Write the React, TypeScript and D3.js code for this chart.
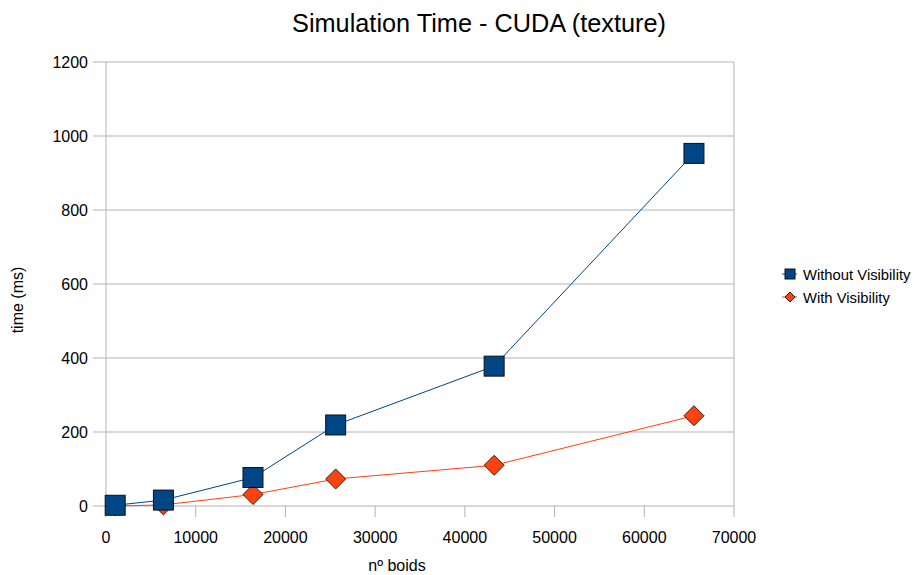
import React from "react";
import * as d3 from "d3";

const boids = [1024, 6400, 16384, 25600, 43264, 65536];
const withoutVisibility = [2, 16, 77, 219, 378, 953];
const withVisibility = [0, 3, 31, 73, 110, 244];
const xTicks = [0, 10000, 20000, 30000, 40000, 50000, 60000, 70000];
const yTicks = [0, 200, 400, 600, 800, 1000, 1200];
const seriesNames = ["Without Visibility", "With Visibility"];

const W = 914, H = 575;
const L = 106, R = 734, T = 62, B = 506;
const FONT = "'Liberation Sans', Arial, sans-serif";
const BLUE = "#004586";
const ORANGE = "#ff420e";
const GRID = "#b3b3b3";

export default function App() {
  const x = d3.scaleLinear().domain([0, 70000]).range([L, R]);
  const y = d3.scaleLinear().domain([0, 1200]).range([B, T]);
  const line = d3.line<number>().x((_, i) => x(boids[i])).y((d) => y(d));

  const sq = 10;
  const dm = 10;
  const diamond = (cx: number, cy: number, r: number) =>
    `M${cx},${cy - r}L${cx + r},${cy}L${cx},${cy + r}L${cx - r},${cy}Z`;

  return (
    <svg width={W} height={H} style={{ position: "absolute", left: 0, top: 0 }} fontFamily={FONT}>
      <rect width={W} height={H} fill="#fff" />
      <text x={479} y={32} textAnchor="middle" fontSize={25.3}>Simulation Time - CUDA (texture)</text>
      {yTicks.map((t) => (
        <g key={"y" + t}>
          <line x1={L} x2={R} y1={y(t)} y2={y(t)} stroke={GRID} strokeWidth={1} />
          <line x1={L - 13} x2={L} y1={y(t)} y2={y(t)} stroke={GRID} strokeWidth={1} />
          <text x={L - 18} y={y(t) + 6} textAnchor="end" fontSize={16}>{t}</text>
        </g>
      ))}
      <line x1={L} x2={L} y1={T} y2={B} stroke={GRID} />
      <line x1={R} x2={R} y1={T} y2={B} stroke={GRID} />
      {xTicks.map((t) => (
        <g key={"x" + t}>
          <line x1={x(t)} x2={x(t)} y1={B} y2={B + 11} stroke={GRID} />
          <text x={x(t)} y={B + 37} textAnchor="middle" fontSize={16}>{t}</text>
        </g>
      ))}
      <text x={397} y={571} textAnchor="middle" fontSize={16}>nº boids</text>
      <text transform={`translate(23,300) rotate(-90)`} textAnchor="middle" fontSize={16}>time (ms)</text>

      <path d={line(withoutVisibility) || ""} fill="none" stroke={BLUE} strokeWidth={1} />
      <path d={line(withVisibility) || ""} fill="none" stroke={ORANGE} strokeWidth={1} />
      {withVisibility.map((v, i) => (
        <path key={"d" + i} d={diamond(x(boids[i]), y(v), dm)} fill={ORANGE} stroke="#222" strokeWidth={1} />
      ))}
      {withoutVisibility.map((v, i) => (
        <rect key={"s" + i} x={x(boids[i]) - sq} y={y(v) - sq} width={sq * 2} height={sq * 2} fill={BLUE} stroke="#111" strokeWidth={1} />
      ))}

      <g>
        <line x1={782} x2={797} y1={274} y2={274} stroke={BLUE} />
        <rect x={785} y={269} width={10} height={10} fill={BLUE} stroke="#111" />
        <text x={803} y={280} fontSize={14.8}>{seriesNames[0]}</text>
        <line x1={782} x2={797} y1={297} y2={297} stroke={ORANGE} />
        <path d={diamond(790, 297, 5)} fill={ORANGE} stroke="#222" />
        <text x={803} y={303} fontSize={14.8}>{seriesNames[1]}</text>
      </g>
    </svg>
  );
}
